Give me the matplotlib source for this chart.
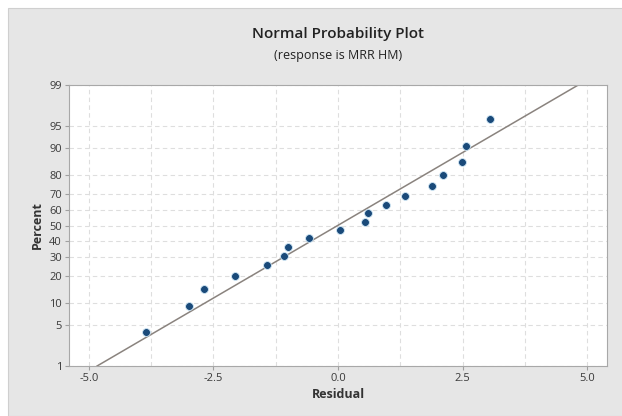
#imports
from statistics import NormalDist
import numpy as np
import matplotlib.pyplot as plt
from matplotlib.patches import Rectangle

plt.rcParams['font.family'] = ['Open Sans', 'DejaVu Sans']

#data
residual = [-3.85, -3.00, -2.68, -2.06, -1.43, -1.09, -1.01, -0.58, 0.04,
            0.54, 0.60, 0.97, 1.35, 1.88, 2.10, 2.48, 2.56, 3.06]
percent = [3.9, 9.2, 14.6, 20.0, 25.5, 30.8, 36.3, 41.7, 47.2,
           52.6, 58.1, 63.5, 69.0, 74.4, 79.8, 85.3, 90.7, 96.1]
yticks = [1, 5, 10, 20, 30, 40, 50, 60, 70, 80, 90, 95, 99]
xticks = [-5.0, -2.5, 0.0, 2.5, 5.0]

nd = NormalDist()
def z(p):
    return np.array([nd.inv_cdf(v / 100.) for v in np.atleast_1d(p)])

#fitted normal line
mu = np.mean(residual)
sd = np.std(residual, ddof=1)
zl = z([1, 99])
xl = mu + sd * zl

#figure
fig = plt.figure(figsize=(6.22, 4.16), dpi=100)
fig.patches.append(Rectangle((8/622, 0), 1, 1 - 8/416, transform=fig.transFigure,
                             facecolor='#e6e6e6', edgecolor='#cfcfcf', lw=0.8, zorder=-1))
ax = fig.add_axes([69/622, 1 - 366/416, 538/622, 281/416])
ax.set_facecolor('white')

ax.plot(xl, zl, color='#8a837e', lw=1.1, zorder=2)
ax.scatter(residual, z(percent), s=32, color='#1a4a7a', edgecolor='#cfe6f5',
           linewidth=0.6, zorder=3)

ax.set_xlim(-5.4, 5.4)
ax.set_ylim(zl[0], zl[1])
ax.set_xticks(xticks)
ax.set_xticklabels(['%.1f' % t for t in xticks])
ax.set_xticks(np.arange(-3.75, 5, 2.5), minor=True)
ax.set_yticks(z(yticks))
ax.set_yticklabels([str(t) for t in yticks])
ax.tick_params(axis='both', which='major', labelsize=8, labelcolor='#3a3a3a',
               color='#a0a0a0', length=3, width=0.8, pad=2)
ax.tick_params(axis='x', which='minor', length=0)
ax.grid(True, which='both', color='#dedede', ls=(0, (4, 3)), lw=0.8)
for s in ax.spines.values():
    s.set_color('#a8a8a8')

ax.set_xlabel('Residual', fontsize=9, fontweight='bold', color='#333333', labelpad=3)
ax.set_ylabel('Percent', fontsize=9, fontweight='bold', color='#333333', labelpad=4)
fig.text(338/622, 1 - 34/416, 'Normal Probability Plot', ha='center', va='center',
         fontsize=11, fontweight='semibold', color='#222222')
fig.text(338/622, 1 - 56/416, '(response is MRR HM)', ha='center', va='center',
         fontsize=9, color='#222222')

fig.savefig('out.png', dpi=100)
